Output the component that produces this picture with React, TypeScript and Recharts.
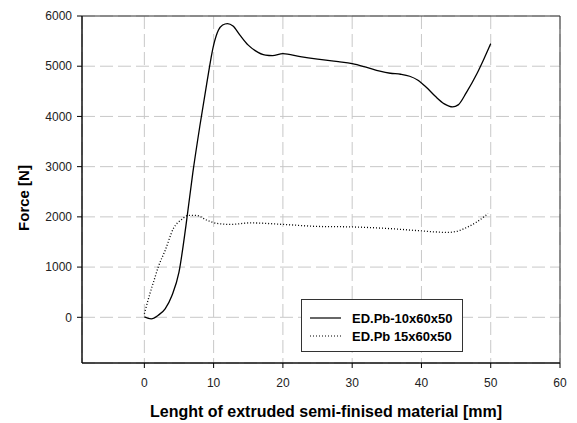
import React from 'react';
import { LineChart, Line, XAxis, YAxis, CartesianGrid, Legend, ReferenceArea } from 'recharts';

// ED.Pb-10x60x50 (solid)
const solidLength = [0, 1, 2, 3, 4, 5, 6, 7, 8, 9, 10, 10.7, 11.3, 12, 12.8, 13.8, 15, 16, 17.5, 18.5, 20, 22.5, 25, 28, 30, 32, 34, 35.5, 37, 38.3, 39.5, 40.7, 42, 43.3, 44.5, 45.3, 46.5, 48, 49, 50];
const solidForce = [10, -30, 40, 170, 440, 900, 1820, 2880, 3800, 4650, 5420, 5720, 5820, 5850, 5800, 5620, 5420, 5310, 5220, 5210, 5250, 5190, 5140, 5090, 5050, 4980, 4900, 4860, 4840, 4800, 4720, 4580, 4400, 4250, 4190, 4230, 4480, 4850, 5140, 5450];

// ED.Pb 15x60x50 (dotted)
const dottedLength = [0, 0.8, 1.5, 2, 3, 4.2, 5.4, 6.4, 7.5, 9, 10.5, 12.4, 15.3, 20, 25, 30, 35, 40, 42, 43.8, 45, 46.7, 48, 49.6];
const dottedForce = [70, 470, 780, 1000, 1330, 1770, 1950, 2030, 2030, 1935, 1870, 1850, 1880, 1850, 1810, 1800, 1770, 1720, 1700, 1690, 1710, 1800, 1900, 2065];

const xTicks = [0, 10, 20, 30, 40, 50, 60];
const yTicks = [0, 1000, 2000, 3000, 4000, 5000, 6000];

const solidData = solidLength.map((x, i) => ({ x, force: solidForce[i] }));
const dottedData = dottedLength.map((x, i) => ({ x, force: dottedForce[i] }));

function LegendBox() {
  const rows = [
    { name: 'ED.Pb-10x60x50', dash: undefined },
    { name: 'ED.Pb 15x60x50', dash: '1 2' }
  ];
  return (
    <div style={{ width: 162, height: 53, boxSizing: 'border-box', border: '1px solid #333', background: '#fff', paddingTop: 9 }}>
      {rows.map((r) => (
        <div key={r.name} style={{ display: 'flex', alignItems: 'center', height: 18 }}>
          <svg width={50} height={18}>
            <line x1={8} x2={39} y1={9} y2={9} stroke="#000" strokeWidth={1.2} strokeDasharray={r.dash} />
          </svg>
          <span style={{ fontSize: 13, fontWeight: 'bold', color: '#000' }}>{r.name}</span>
        </div>
      ))}
    </div>
  );
}

function YTitle() {
  return (
    <text x={23} y={198} transform="rotate(-90 23 198)" textAnchor="middle" dominantBaseline="central"
      style={{ fontSize: 15, fontWeight: 'bold', fill: '#000' }}>
      Force [N]
    </text>
  );
}

export default function App() {
  return (
    <div style={{ position: 'absolute', left: 0, top: 0, width: 577, height: 423, background: '#fff', fontFamily: '"Liberation Sans", Arial, sans-serif' }}>
      <LineChart width={577} height={423} margin={{ top: 16, right: 17, bottom: 0, left: 0 }}>
        <CartesianGrid strokeDasharray="13 5" stroke="#c8c8c8" />
        <XAxis
          type="number"
          dataKey="x"
          domain={[-9, 60]}
          ticks={xTicks}
          allowDataOverflow
          height={60}
          tickSize={5}
          tickMargin={10}
          stroke="#000"
          tick={{ fill: '#222', fontSize: 12 }}
          label={{ value: 'Lenght of extruded semi-finised material [mm]', position: 'insideBottom', offset: 6, dx: 5, style: { fontSize: 16, fontWeight: 'bold', fill: '#000' } }}
        />
        <YAxis
          type="number"
          domain={[-910, 6000]}
          ticks={yTicks}
          allowDataOverflow
          width={82}
          tickSize={5}
          tickMargin={5}
          stroke="#000"
          tick={{ fill: '#222', fontSize: 12 }}
          label={<YTitle />}
        />
        <ReferenceArea x1={-9} x2={60} y1={-910} y2={6000} fill="none" stroke="#333" strokeWidth={1} />
        <Line data={solidData} dataKey="force" name="ED.Pb-10x60x50" type="monotone" stroke="#000" strokeWidth={1.3} dot={false} isAnimationActive={false} />
        <Line data={dottedData} dataKey="force" name="ED.Pb 15x60x50" type="monotone" stroke="#000" strokeWidth={1.3} strokeDasharray="1 2" dot={false} isAnimationActive={false} />
        <Legend layout="vertical" align="center" verticalAlign="middle" content={<LegendBox />}
          wrapperStyle={{ left: 301, top: 299, width: 162, height: 53 }} />
      </LineChart>
    </div>
  );
}
